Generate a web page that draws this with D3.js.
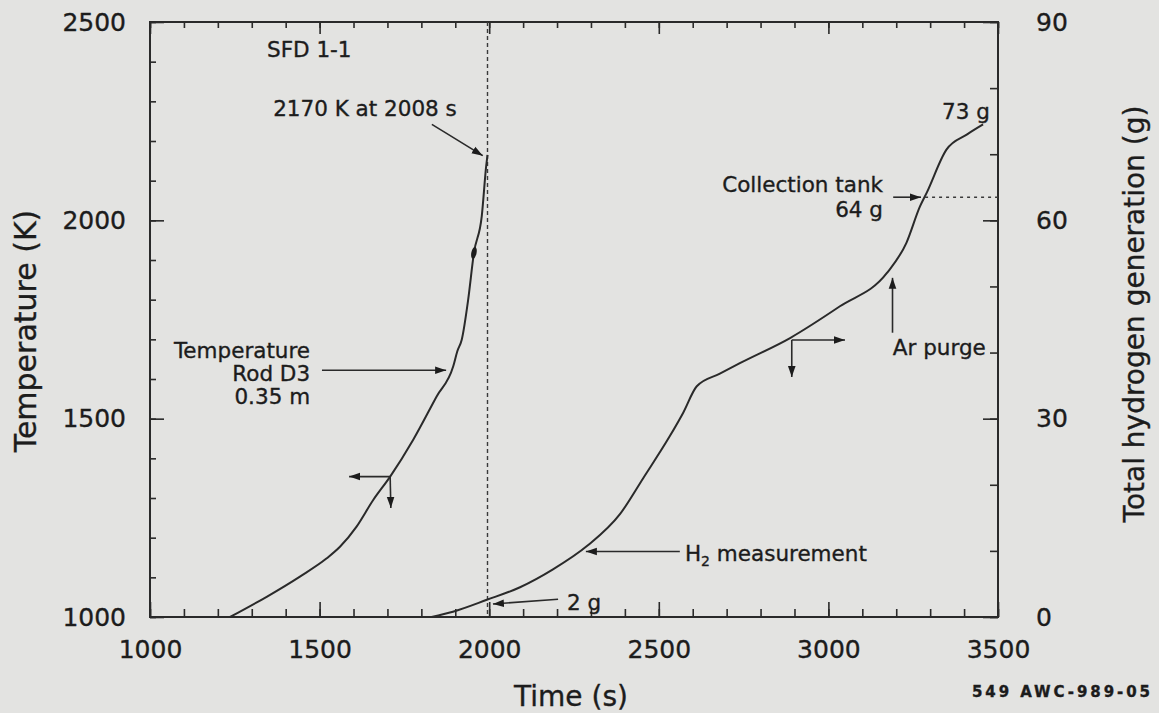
<!DOCTYPE html>
<html>
<head>
<meta charset="utf-8">
<script src="https://cdn.jsdelivr.net/npm/d3@7"></script>
<style>
  body { margin: 0; background: #e3e3e1; }
  svg { display: block; font-family: "DejaVu Sans", Verdana, sans-serif; }
  text { fill: #1c1c1c; stroke: #1c1c1c; stroke-width: 0.35px; }
</style>
</head>
<body>
<script>
var w = 1159;
var h = 713;

// time (s) ticks and axis labels
var timeTicks = [1000, 1500, 2000, 2500, 3000, 3500];
var tempTicks = [1000, 1500, 2000, 2500];
var h2Ticks = [0, 30, 60, 90];

// rod D3 temperature at 0.35 m (K)
var tempTime = [1236, 1344, 1442, 1521, 1560, 1609, 1658, 1708, 1776, 1845, 1894, 1906, 1919, 1938, 1955, 1978, 1991, 1995];
var tempValue = [1000, 1051, 1102, 1148, 1177, 1228, 1295, 1354, 1447, 1556, 1632, 1670, 1699, 1800, 1918, 2010, 2136, 2165];

// total hydrogen generation (g)
var h2Time = [1830, 1893, 1993, 2091, 2188, 2290, 2386, 2454, 2533, 2572, 2612, 2680, 2739, 2887, 3034, 3172, 3230, 3270, 3290, 3348, 3409, 3456];
var h2Value = [0, 0.8, 2.6, 4.5, 7.2, 10.8, 15.6, 21.0, 27.4, 30.9, 34.9, 36.8, 38.4, 42.2, 47.0, 52.0, 56.6, 62.1, 64.2, 70.7, 73.0, 74.5];

var peakTime = 1995;     // dashed line, 2170 K at 2008 s
var tankLevel = 63.5;    // collection tank 64 g

var margin = {left: 150, right: 161, top: 22, bottom: 96};

var x = d3.scaleLinear().domain([1000, 3500]).range([margin.left, w - margin.right]);
var yT = d3.scaleLinear().domain([1000, 2500]).range([h - margin.bottom, margin.top]);
var yG = d3.scaleLinear().domain([0, 90]).range([h - margin.bottom, margin.top]);

var svg = d3.select("body").append("svg")
    .attr("width", w)
    .attr("height", h);

// arrow head
svg.append("defs").append("marker")
    .attr("id", "ah")
    .attr("viewBox", "0 -5 12 10")
    .attr("refX", 11)
    .attr("refY", 0)
    .attr("markerWidth", 12)
    .attr("markerHeight", 10)
    .attr("markerUnits", "userSpaceOnUse")
    .attr("orient", "auto")
    .append("path")
    .attr("d", "M0,-3.8 L11,0 L0,3.8 Z")
    .style("fill", "#1c1c1c");

// frame
svg.append("rect")
    .attr("x", x(1000)).attr("y", yT(2500))
    .attr("width", x(3500) - x(1000))
    .attr("height", yT(1000) - yT(2500))
    .style("fill", "none").style("stroke", "#2a2a2a").style("stroke-width", 2);

var minorTime = d3.range(1000, 3501, 100);
var minorTemp = d3.range(1000, 2501, 100);
var minorG = d3.range(0, 91, 10);

function styleAxis(g) {
  g.select(".domain").remove();
  g.selectAll("line").style("stroke", "#2a2a2a").style("stroke-width", 1.6);
  g.selectAll("text").style("font-size", "25px").style("font-family", "DejaVu Sans");
}

// bottom
svg.append("g").attr("transform", "translate(0," + yT(1000) + ")")
    .call(d3.axisBottom(x).tickValues(minorTime).tickSize(-8).tickFormat(""))
    .call(styleAxis);
svg.append("g").attr("transform", "translate(0," + yT(1000) + ")")
    .call(d3.axisBottom(x).tickValues(timeTicks).tickSize(-15).tickPadding(23).tickFormat(d3.format("d")))
    .call(styleAxis);

// top
svg.append("g").attr("transform", "translate(0," + yT(2500) + ")")
    .call(d3.axisTop(x).tickValues(minorTime).tickSize(-6).tickFormat(""))
    .call(styleAxis);
svg.append("g").attr("transform", "translate(0," + yT(2500) + ")")
    .call(d3.axisTop(x).tickValues(timeTicks).tickSize(-12).tickFormat(""))
    .call(styleAxis);

// left
svg.append("g").attr("transform", "translate(" + x(1000) + ",0)")
    .call(d3.axisLeft(yT).tickValues(minorTemp).tickSize(-6).tickFormat(""))
    .call(styleAxis);
svg.append("g").attr("transform", "translate(" + x(1000) + ",0)")
    .call(d3.axisLeft(yT).tickValues(tempTicks).tickSize(-14).tickPadding(24).tickFormat(d3.format("d")))
    .call(styleAxis);

// right
svg.append("g").attr("transform", "translate(" + x(3500) + ",0)")
    .call(d3.axisRight(yG).tickValues(minorG).tickSize(-8).tickFormat(""))
    .call(styleAxis);
svg.append("g").attr("transform", "translate(" + x(3500) + ",0)")
    .call(d3.axisRight(yG).tickValues(h2Ticks).tickSize(-15).tickPadding(38).tickFormat(d3.format("d")))
    .call(styleAxis);

// axis titles
svg.append("text")
    .attr("transform", "translate(36,331) rotate(-90)")
    .attr("text-anchor", "middle")
    .style("font-size", "30px")
    .text("Temperature (K)");

svg.append("text")
    .attr("transform", "translate(1144,314) rotate(-90)")
    .attr("text-anchor", "middle")
    .style("font-size", "28px")
    .text("Total hydrogen generation (g)");

svg.append("text")
    .attr("x", 571).attr("y", 706)
    .attr("text-anchor", "middle")
    .style("font-size", "28px")
    .text("Time (s)");

svg.append("text")
    .attr("x", 972).attr("y", 697)
    .attr("textLength", 178)
    .style("font-size", "15px").style("font-weight", "bold")
    .text("549 AWC-989-05");

// dashed line at peak
svg.append("line")
    .attr("x1", x(peakTime)).attr("x2", x(peakTime))
    .attr("y1", yT(2500)).attr("y2", yT(1000))
    .style("stroke", "#3a3a3a").style("stroke-width", 1.4).style("stroke-dasharray", "4,3");

// curves
var tempData = tempTime.map(function(t, i) { return [t, tempValue[i]]; });
var h2Data = h2Time.map(function(t, i) { return [t, h2Value[i]]; });

var tempLine = d3.line()
    .x(function(d) { return x(d[0]); })
    .y(function(d) { return yT(d[1]); })
    .curve(d3.curveMonotoneX);

var h2Line = d3.line()
    .x(function(d) { return x(d[0]); })
    .y(function(d) { return yG(d[1]); })
    .curve(d3.curveMonotoneX);

svg.append("path").datum(tempData)
    .attr("d", tempLine)
    .style("fill", "none").style("stroke", "#2a2a2a").style("stroke-width", 2);

svg.append("path").datum(h2Data)
    .attr("d", h2Line)
    .style("fill", "none").style("stroke", "#2a2a2a").style("stroke-width", 2);

// small blob on the temperature trace
svg.append("ellipse")
    .attr("cx", x(1955)).attr("cy", yT(1918))
    .attr("rx", 2.6).attr("ry", 6)
    .attr("transform", "rotate(12," + x(1955) + "," + yT(1918) + ")")
    .style("fill", "#1c1c1c");

// annotations (data units)
function arrow(x1, y1, x2, y2) {
  svg.append("line")
      .attr("x1", x1).attr("y1", y1).attr("x2", x2).attr("y2", y2)
      .attr("marker-end", "url(#ah)")
      .style("stroke", "#2a2a2a").style("stroke-width", 1.6);
}
function label(px, py, str, anchor) {
  return svg.append("text")
      .attr("x", px).attr("y", py)
      .attr("text-anchor", anchor || "start")
      .style("font-size", "21.5px")
      .text(str);
}

label(x(1345), yT(2411), "SFD 1-1");
label(x(1363), yT(2262), "2170 K at 2008 s");
arrow(x(1831), yT(2242), x(1981), yT(2163));

label(x(1472), yT(1654), "Temperature", "end");
label(x(1472), yT(1596), "Rod D3", "end");
label(x(1472), yT(1538), "0.35 m", "end");
arrow(x(1507), yT(1622), x(1873), yT(1622));

// left-axis indicator
arrow(x(1708), yT(1354), x(1587), yT(1354));
arrow(x(1708), yT(1354), x(1710), yT(1275));

// H2 annotations
var h2lab = label(x(2577), yG(8.4), "H");
h2lab.append("tspan").attr("dy", 5).style("font-size", "14px").text("2");
h2lab.append("tspan").attr("dy", -5).text(" measurement");
arrow(x(2562), yG(9.9), x(2285), yG(9.9));

label(x(2229), yG(1.06), "2 g");
arrow(x(2203), yG(2.68), x(2011), yG(1.97));

label(x(3190), yG(39.7), "Ar purge");
arrow(x(3189), yG(43.0), x(3189), yG(51.3));

// right-axis indicator
arrow(x(2892), yG(41.9), x(2892), yG(36.3));
arrow(x(2892), yG(41.9), x(3049), yG(41.9));

label(x(3161), yG(64.3), "Collection tank", "end");
label(x(3161), yG(60.5), "64 g", "end");
arrow(x(3191), yG(tankLevel), x(3273), yG(tankLevel));
svg.append("line")
    .attr("x1", x(3285)).attr("x2", x(3500))
    .attr("y1", yG(tankLevel)).attr("y2", yG(tankLevel))
    .style("stroke", "#3a3a3a").style("stroke-width", 1.4).style("stroke-dasharray", "3,4");

label(x(3335), yG(75.3), "73 g");
</script>
</body>
</html>
